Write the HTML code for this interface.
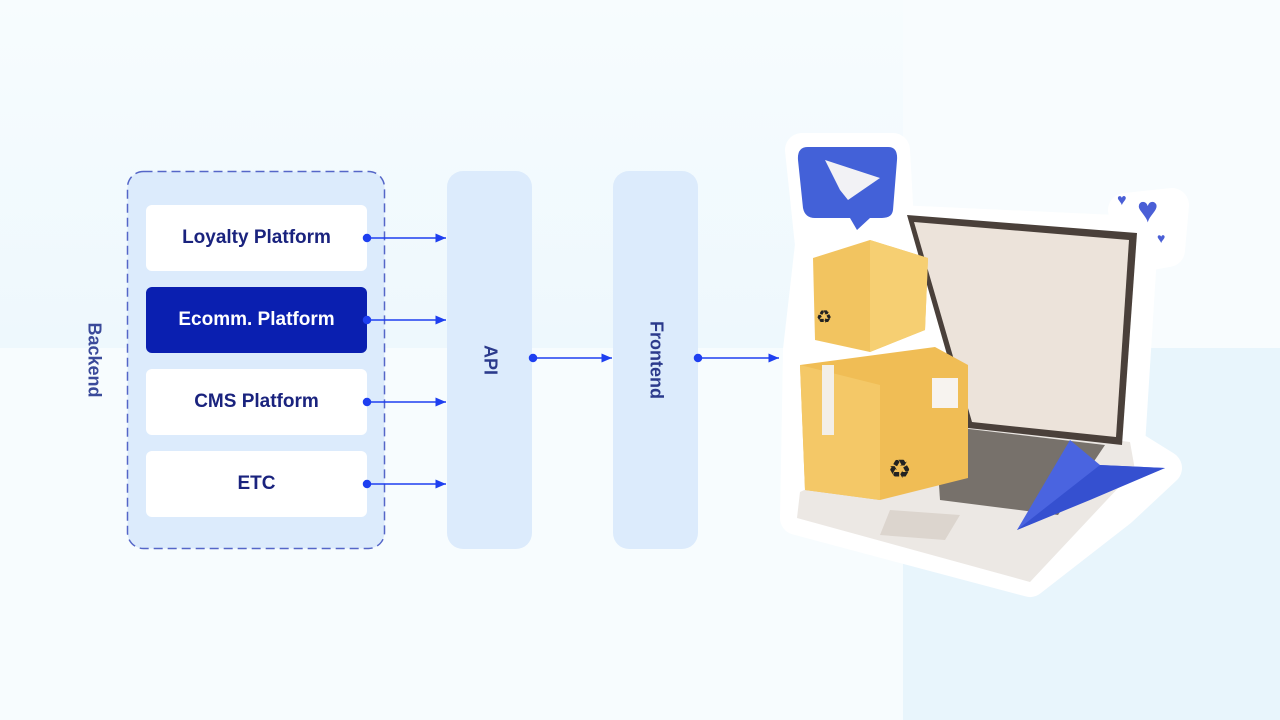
<!DOCTYPE html>
<html><head><meta charset="utf-8"><style>
html,body{margin:0;padding:0}
body{width:1280px;height:720px;position:relative;overflow:hidden;background:#f7fcfe;font-family:"Liberation Sans",sans-serif}
.abs{position:absolute}
.box{position:absolute;left:146px;width:221px;height:66px;background:#fff;border-radius:6px;color:#1a237e;font-weight:bold;font-size:19px;display:flex;align-items:center;justify-content:center}
.col{position:absolute;top:171px;height:378px;width:85px;background:#dcebfc;border-radius:16px}
.vt{position:absolute;transform:translate(-50%,-50%) rotate(90deg);color:#2b3a8c;font-weight:bold;font-size:18px;white-space:nowrap}
</style></head><body>
<div class="abs" style="left:0;top:0;width:903px;height:348px;background:linear-gradient(180deg,#f7fcfe 0%,#eef8fd 100%)"></div>
<div class="abs" style="left:903px;top:0;width:377px;height:348px;background:#f8fcfe"></div>
<div class="abs" style="left:903px;top:348px;width:377px;height:372px;background:#e8f5fc"></div>

<svg class="abs" style="left:0;top:0" width="1280" height="720">
<rect x="127.5" y="171.5" width="257" height="377" rx="16" fill="#dcebfc" stroke="#5566c8" stroke-width="1.5" stroke-dasharray="9,5"/>
</svg>
<div class="box" style="top:205px">Loyalty Platform</div>
<div class="box" style="top:287px;background:#0a1fb0;color:#fff">Ecomm. Platform</div>
<div class="box" style="top:369px">CMS Platform</div>
<div class="box" style="top:451px">ETC</div>
<div class="vt" style="left:94px;top:360px;color:#3a4a9a">Backend</div>
<div class="col" style="left:447px"></div>
<div class="col" style="left:613px"></div>
<div class="vt" style="left:490px;top:360px">API</div>
<div class="vt" style="left:656px;top:360px">Frontend</div>

<svg class="abs" style="left:0;top:0" width="1280" height="720">
<defs><marker id="a" markerWidth="8" markerHeight="8" refX="7" refY="4" orient="auto"><path d="M0,1 L7,4 L0,7 Z" fill="#1e3ff0"/></marker></defs>
<g stroke="#1e3ff0" stroke-width="1.5" fill="#1e3ff0">
<line x1="367" y1="238" x2="446" y2="238" marker-end="url(#a)"/><circle cx="367" cy="238" r="3.5"/>
<line x1="367" y1="320" x2="446" y2="320" marker-end="url(#a)"/><circle cx="367" cy="320" r="3.5"/>
<line x1="367" y1="402" x2="446" y2="402" marker-end="url(#a)"/><circle cx="367" cy="402" r="3.5"/>
<line x1="367" y1="484" x2="446" y2="484" marker-end="url(#a)"/><circle cx="367" cy="484" r="3.5"/>
<line x1="533" y1="358" x2="612" y2="358" marker-end="url(#a)"/><circle cx="533" cy="358" r="3.5"/>
<line x1="698" y1="358" x2="779" y2="358" marker-end="url(#a)"/><circle cx="698" cy="358" r="3.5"/>
</g>
<g fill="#fff" stroke="#fff" stroke-width="34" stroke-linejoin="round">
<polygon points="802,150 893,150 897,222 1137,233 1125,210 1172,205 1168,250 1140,255 1128,445 1165,468 1120,510 1030,580 797,518 800,350 812,245"/>
</g>
<polygon points="955,420 1130,442 1135,470 1030,582 797,518 800,492" fill="#ece8e4"/>
<polygon points="935,425 1105,445 1058,515 940,500" fill="#77716b"/>
<polygon points="890,510 960,515 945,540 880,535" fill="#dcd5ce"/>
<polygon points="907,215 1137,233 1122,445 968,428" fill="#4a403a"/>
<polygon points="914,222 1129,240 1116,437 972,422" fill="#ece3da"/>
<polygon points="813,258 870,240 928,258 925,330 870,352 815,340" fill="#f2c460"/>
<polygon points="870,240 928,258 925,330 870,352" fill="#f6cf72"/>
<polygon points="800,365 935,347 968,365 968,478 880,500 805,490" fill="#f0bd55"/>
<polygon points="800,365 880,385 880,500 805,490" fill="#f4c867"/>
<rect x="822" y="365" width="12" height="70" fill="#f3efe8"/>
<rect x="932" y="378" width="26" height="30" fill="#f7f3ef"/>
<text x="888" y="478" font-size="26" fill="#222">♻</text>
<text x="816" y="323" font-size="18" fill="#222">♻</text>
<path d="M808,147 H888 Q898,147 897,160 L893,210 Q892,218 882,218 H870 L857,230 L850,218 H815 Q805,218 803,208 L798,160 Q797,147 808,147Z" fill="#4361d8"/>
<polygon points="825,160 880,178 848,200 840,190" fill="#f2f2f5"/>
<text x="1137" y="222" font-size="36" fill="#4a5fd6">♥</text>
<text x="1117" y="205" font-size="16" fill="#4a5fd6">♥</text>
<text x="1157" y="243" font-size="14" fill="#4a5fd6">♥</text>
<polygon points="1017,530 1070,440 1100,465 1165,468" fill="#4a64e0"/>
<polygon points="1017,530 1100,465 1165,468 1090,500" fill="#3550d0"/>
</svg>
</body></html>
